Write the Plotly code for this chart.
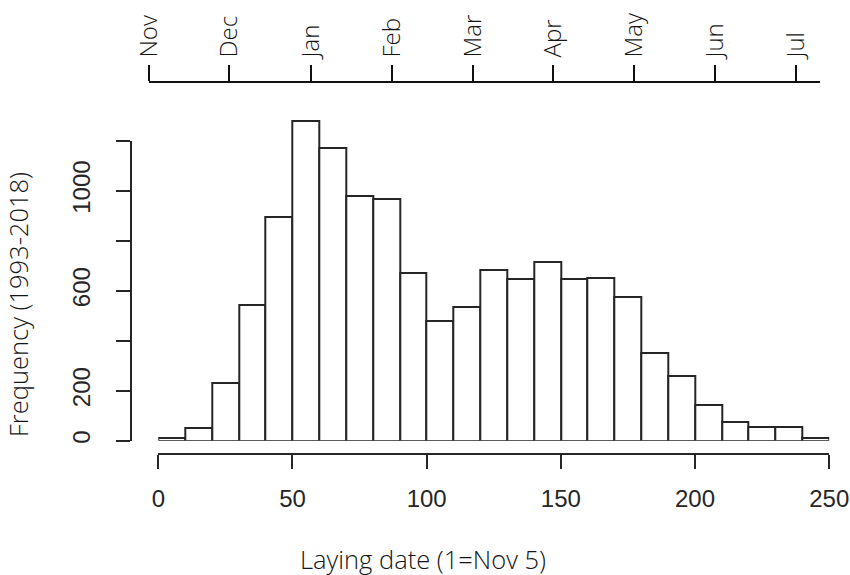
import plotly.graph_objects as go

# ---- data ----
bin_starts = list(range(0, 250, 10))
bin_width = 10
counts = [10, 50, 229, 543, 895, 1279, 1170, 977, 965, 672, 480, 536, 683,
          647, 716, 645, 652, 576, 351, 257, 141, 76, 56, 56, 10]
x_ticks = [0, 50, 100, 150, 200, 250]
y_ticks = [0, 200, 400, 600, 800, 1000, 1200]
y_tick_labels = ["0", "200", "", "600", "", "1000", ""]
month_names = ["Nov", "Dec", "Jan", "Feb", "Mar", "Apr", "May", "Jun", "Jul"]
month_pos = [-3.5, 26.4, 56.7, 86.9, 117.0, 146.8, 176.9, 207.2, 237.2]

W, H = 850, 575
def px(x):
    return x / W
def py(y):
    return (H - y) / H

y0_px = 440.7          # pixel of count 0
unit = 0.25            # px per count
ytop_px = 100
ink = "#262626"
txt_col = "#151515"

centers = [s + bin_width / 2 for s in bin_starts]

fig = go.Figure()
fig.add_trace(go.Bar(
    x=centers, y=counts, width=[bin_width] * len(counts),
    marker=dict(color="white", line=dict(color=ink, width=2)),
    xaxis="x", yaxis="y", hoverinfo="x+y", showlegend=False,
))
# empty traces so the extra axes get drawn
fig.add_trace(go.Scatter(x=[], y=[], xaxis="x", yaxis="y2", showlegend=False))
fig.add_trace(go.Scatter(x=[], y=[], xaxis="x3", yaxis="y", showlegend=False))

num_font = dict(family="Liberation Sans, Arial, sans-serif", size=24, color=ink)
txt_font = dict(family="Open Sans, sans-serif", size=24, color=txt_col, weight=300)
title_font = dict(family="Open Sans, sans-serif", size=25.5, color=txt_col, weight=300)

fig.update_layout(
    width=W, height=H,
    margin=dict(l=0, r=0, t=0, b=0, autoexpand=False),
    paper_bgcolor="white", plot_bgcolor="rgba(0,0,0,0)",
    bargap=0,
    xaxis=dict(
        domain=[px(158.3), px(829.2)], range=[0, 250],
        anchor="free", position=py(454), automargin=False,
        showline=True, linecolor=ink, linewidth=2,
        ticks="outside", ticklen=14, tickwidth=2, tickcolor=ink,
        tickvals=x_ticks, ticktext=[str(v) for v in x_ticks],
        tickfont=num_font, ticklabelstandoff=9,
        showgrid=False, zeroline=False,
    ),
    yaxis=dict(
        domain=[py(y0_px), py(ytop_px)],
        range=[0, (y0_px - ytop_px) / unit], automargin=False,
        visible=False, showgrid=False, zeroline=False,
    ),
    yaxis2=dict(
        domain=[py(y0_px), py(y0_px - 1200 * unit)], range=[0, 1200],
        anchor="free", position=px(130.7), side="left", automargin=False,
        showline=True, linecolor=ink, linewidth=2,
        ticks="outside", ticklen=14, tickwidth=2, tickcolor=ink,
        tickvals=y_ticks, ticktext=y_tick_labels, tickangle=-90,
        tickfont=num_font, ticklabelstandoff=16,
        showgrid=False, zeroline=False,
    ),
    xaxis3=dict(
        domain=[px(149), px(820)], range=[-3.5, 246.2],
        anchor="free", position=py(82.3), side="top", automargin=False,
        showline=True, linecolor="#111", linewidth=2,
        ticks="outside", ticklen=16, tickwidth=2, tickcolor="#111",
        tickvals=month_pos, ticktext=month_names, tickangle=-90,
        tickfont=txt_font, ticklabelstandoff=3,
        showgrid=False, zeroline=False,
    ),
    annotations=[
        dict(text="Laying date (1=Nov 5)", xref="paper", yref="paper",
             x=px(423), y=py(559), xanchor="center", yanchor="middle",
             showarrow=False, font=title_font),
        dict(text="Frequency (1993-2018)", xref="paper", yref="paper",
             x=px(18), y=py(305), xanchor="center", yanchor="middle", textangle=-90,
             showarrow=False, font=title_font),
    ],
)

fig.write_html("out.html")
